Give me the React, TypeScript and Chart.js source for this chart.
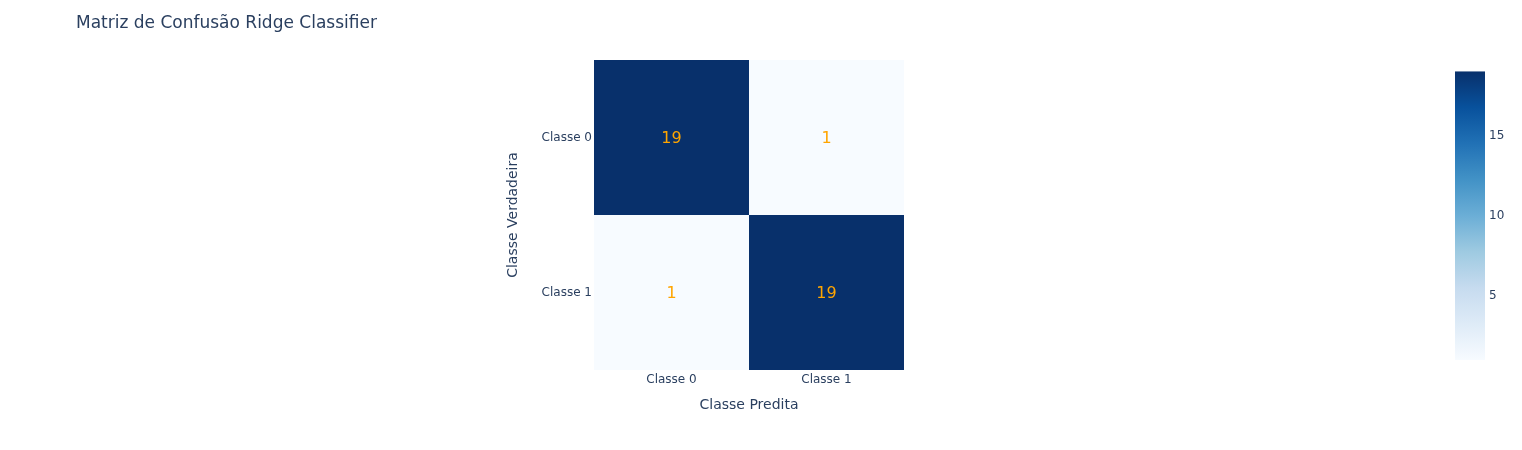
import React, { useEffect, useRef } from "react";
import { Chart, registerables } from "chart.js";

Chart.register(...registerables);

const predLabels = ["Classe 0", "Classe 1"];
const trueLabels = ["Classe 0", "Classe 1"];
const matrixRow0 = [19, 1];
const matrixRow1 = [1, 19];
const colorbarTicks = [5, 10, 15];
const zMin = 1;
const zMax = 19;
const titleText = "Matriz de Confusão Ridge Classifier";
const xTitle = "Classe Predita";
const yTitle = "Classe Verdadeira";

const blues: [number, number[]][] = [
  [0, [247, 251, 255]],
  [0.125, [222, 235, 247]],
  [0.25, [198, 219, 239]],
  [0.375, [158, 202, 225]],
  [0.5, [107, 174, 214]],
  [0.625, [66, 146, 198]],
  [0.75, [33, 113, 181]],
  [0.875, [8, 81, 156]],
  [1, [8, 48, 107]],
];

function colorFor(v: number): string {
  const t = Math.max(0, Math.min(1, (v - zMin) / (zMax - zMin)));
  for (let i = 1; i < blues.length; i++) {
    if (t <= blues[i][0]) {
      const [t0, c0] = blues[i - 1];
      const [t1, c1] = blues[i];
      const f = (t - t0) / (t1 - t0);
      const c = c0.map((a, k) => Math.round(a + (c1[k] - a) * f));
      return `rgb(${c[0]},${c[1]},${c[2]})`;
    }
  }
  return "rgb(8,48,107)";
}

const FONT = '"DejaVu Sans", Verdana, sans-serif';
const TEXT = "#2a3f5f";

export default function App() {
  const mainRef = useRef<HTMLCanvasElement>(null);
  const cbRef = useRef<HTMLCanvasElement>(null);

  useEffect(() => {
    const annot = {
      id: "annot",
      afterDatasetsDraw(chart: any) {
        const ctx = chart.ctx;
        ctx.save();
        ctx.font = `16px ${FONT}`;
        ctx.fillStyle = "#FFA500";
        ctx.textAlign = "center";
        ctx.textBaseline = "middle";
        chart.data.datasets.forEach((ds: any, di: number) => {
          const meta = chart.getDatasetMeta(di);
          meta.data.forEach((bar: any, i: number) => {
            const cy = (bar.y + bar.base) / 2;
            ctx.fillText(String(ds.values[i]), bar.x, cy + 1);
          });
        });
        ctx.restore();
      },
      afterDraw(chart: any) {
        const ctx = chart.ctx;
        const a = chart.chartArea;
        ctx.save();
        ctx.fillStyle = TEXT;
        ctx.font = `17px ${FONT}`;
        ctx.textAlign = "left";
        ctx.textBaseline = "middle";
        ctx.fillText(titleText, 68, 16);
        ctx.font = `14px ${FONT}`;
        ctx.textAlign = "center";
        ctx.fillText(xTitle, (a.left + a.right) / 2, 397);
        ctx.translate(505, (a.top + a.bottom) / 2);
        ctx.rotate(-Math.PI / 2);
        ctx.fillText(yTitle, 0, 0);
        ctx.restore();
      },
    };

    const main = new Chart(mainRef.current!, {
      type: "bar",
      data: {
        labels: predLabels,
        datasets: [
          {
            label: trueLabels[1],
            data: matrixRow1.map(() => [0, 1]) as any,
            values: matrixRow1,
            backgroundColor: matrixRow1.map(colorFor),
            barPercentage: 1,
            categoryPercentage: 1,
            grouped: false,
            borderWidth: 0,
            inflateAmount: 0,
          } as any,
          {
            label: trueLabels[0],
            data: matrixRow0.map(() => [1, 2]) as any,
            values: matrixRow0,
            backgroundColor: matrixRow0.map(colorFor),
            barPercentage: 1,
            categoryPercentage: 1,
            grouped: false,
            borderWidth: 0,
            inflateAmount: 0,
          } as any,
        ],
      },
      options: {
        animation: false,
        responsive: false,
        layout: { padding: { left: 0, right: 610, top: 52, bottom: 0 } },
        plugins: { legend: { display: false }, tooltip: { enabled: false }, title: { display: false } },
        scales: {
          x: {
            type: "category",
            grid: { display: false, drawTicks: false },
            border: { display: false },
            ticks: { color: TEXT, font: { family: FONT, size: 12 }, padding: 3, maxRotation: 0 },
            afterFit(s: any) {
              s.height = 72;
            },
          },
          y: {
            type: "linear",
            min: 0,
            max: 2,
            grid: { display: false, drawTicks: false },
            border: { display: false },
            afterBuildTicks(s: any) {
              s.ticks = [{ value: 0.5 }, { value: 1.5 }];
            },
            ticks: {
              color: TEXT,
              font: { family: FONT, size: 12 },
              padding: 2,
              callback: (v: any) => (v > 1 ? trueLabels[0] : trueLabels[1]),
            },
            afterFit(s: any) {
              s.width = 586;
            },
          },
        },
      },
      plugins: [annot],
    } as any);

    const cb = new Chart(cbRef.current!, {
      type: "bar",
      data: {
        labels: ["z"],
        datasets: [
          {
            data: [[zMin, zMax]] as any,
            barPercentage: 1,
            categoryPercentage: 1,
            borderWidth: 0,
            inflateAmount: 0,
            backgroundColor: (c: any) => {
              const area = c.chart.chartArea;
              if (!area) return "#fff";
              const g = c.chart.ctx.createLinearGradient(0, area.bottom, 0, area.top);
              blues.forEach(([t, col]) => g.addColorStop(t, `rgb(${col[0]},${col[1]},${col[2]})`));
              return g;
            },
          },
        ],
      },
      options: {
        animation: false,
        responsive: false,
        layout: { padding: { left: 15, right: 0, top: 10, bottom: 20 } },
        plugins: { legend: { display: false }, tooltip: { enabled: false } },
        scales: {
          x: { display: false },
          y: {
            type: "linear",
            position: "right",
            min: zMin,
            max: zMax,
            grid: { display: false, drawTicks: false },
            border: { display: false },
            afterBuildTicks(s: any) {
              s.ticks = colorbarTicks.map((v) => ({ value: v }));
            },
            ticks: { color: TEXT, font: { family: FONT, size: 12 }, padding: 4 },
            afterFit(s: any) {
              s.width = 35;
            },
          },
        },
      },
    } as any);

    return () => {
      main.destroy();
      cb.destroy();
    };
  }, []);

  return (
    <div style={{ position: "relative", width: 1506, height: 434 }}>
      <canvas ref={mainRef} width={1506} height={434} style={{ position: "absolute", left: 0, top: 0 }} />
      <canvas ref={cbRef} width={80} height={320} style={{ position: "absolute", left: 1432, top: 52 }} />
    </div>
  );
}
